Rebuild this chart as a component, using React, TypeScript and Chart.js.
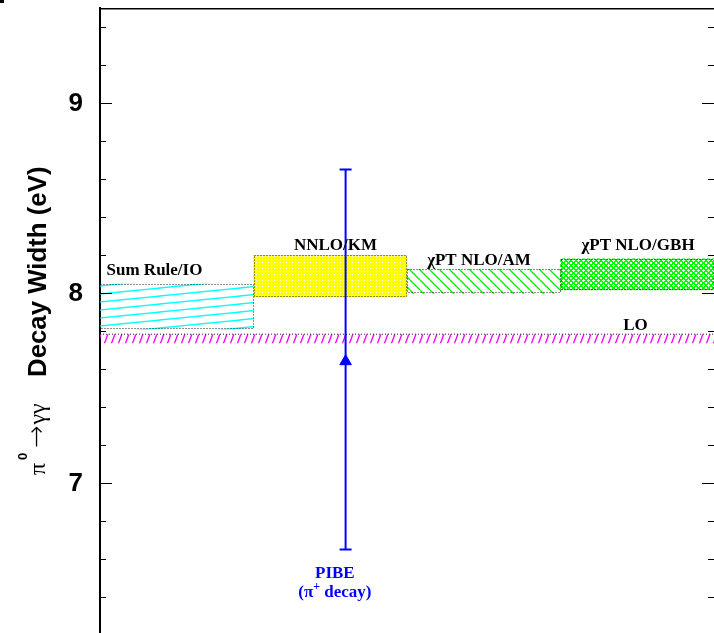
import React, { useEffect, useRef } from 'react';
import { Chart, registerables } from 'chart.js';

Chart.register(...registerables);

// ---- data ----
const MODELS = ['Sum Rule/IO', 'NNLO/KM', 'χPT NLO/AM', 'χPT NLO/GBH'];
const MODEL_X = [0.5, 1.5, 2.5, 3.5];
const MODEL_LOW = [7.81, 7.979, 7.998, 8.016];
const MODEL_HIGH = [8.047, 8.198, 8.125, 8.179];

const LO_LABEL = 'LO';
const LO_LOW = 7.735;
const LO_HIGH = 7.783;

const PIBE_LABEL = 'PIBE';
const PIBE_SUB = ['(π', '+', ' decay)'];
const PIBE_X = 1.6;
const PIBE_VALUE = 7.64;
const PIBE_ERR_LOW = 6.65;
const PIBE_ERR_HIGH = 8.65;

const Y_TICKS = [6.4, 6.6, 6.8, 7, 7.2, 7.4, 7.6, 7.8, 8, 8.2, 8.4, 8.6, 8.8, 9, 9.2, 9.4];
const Y_LABELED = [7, 8, 9];
const X_RANGE = [0, 4];
const Y_RANGE = [6.21, 9.5];

// label anchors in data coordinates
const MODEL_LABEL_X = [0.355, 1.534, 2.469, 3.505];
const MODEL_LABEL_Y = [8.095, 8.226, 8.147, 8.226];
const LO_LABEL_X = 3.489;
const LO_LABEL_Y = 7.805;
const PIBE_LABEL_X = 1.53;
const PIBE_LABEL_Y = [6.5, 6.4];

const SERIF = '"Liberation Serif", "DejaVu Serif", serif';
const SANS = '"Liberation Sans", Arial, sans-serif';

function makePattern(ctx: CanvasRenderingContext2D, w: number, h: number, draw: (g: CanvasRenderingContext2D) => void) {
  const c = document.createElement('canvas');
  c.width = w;
  c.height = h;
  const g = c.getContext('2d') as CanvasRenderingContext2D;
  draw(g);
  return ctx.createPattern(c, 'repeat') as CanvasPattern;
}

export default function App() {
  const ref = useRef<HTMLCanvasElement | null>(null);

  useEffect(() => {
    const canvas = ref.current;
    if (!canvas) return;
    const ctx = canvas.getContext('2d') as CanvasRenderingContext2D;

    const cyanP = makePattern(ctx, 80, 8, (g) => {
      g.strokeStyle = '#00ffff';
      g.lineWidth = 1.3;
      for (let k = -1; k <= 1; k++) {
        g.beginPath();
        g.moveTo(0, 8 + 8 * k);
        g.lineTo(80, 8 * k);
        g.stroke();
      }
    });
    const yellowP = makePattern(ctx, 3, 3, (g) => {
      g.fillStyle = '#ffff00';
      g.fillRect(0, 0, 3, 3);
      g.fillStyle = '#ffffff';
      g.fillRect(1, 1, 1, 1);
    });
    const amP = makePattern(ctx, 10, 10, (g) => {
      g.strokeStyle = '#00ee00';
      g.lineWidth = 1.3;
      for (let k = -1; k <= 1; k++) {
        g.beginPath();
        g.moveTo(10 * k, 0);
        g.lineTo(10 * k + 10, 10);
        g.stroke();
      }
    });
    const gbhP = makePattern(ctx, 5, 5, (g) => {
      g.fillStyle = '#ffffff';
      g.fillRect(0, 0, 5, 5);
      g.fillStyle = '#00ff00';
      for (let x = 0; x < 5; x++) {
        for (let y = 0; y < 5; y++) {
          const a = (x + y) % 5;
          const b = (((x - y) % 5) + 5) % 5;
          if (a <= 1 || b <= 1) g.fillRect(x, y, 1, 1);
        }
      }
    });
    const magP = makePattern(ctx, 7, 19, (g) => {
      g.strokeStyle = '#ff00ff';
      g.lineWidth = 1.4;
      for (let k = -1; k <= 1; k++) {
        g.beginPath();
        g.moveTo(7 * k, 19);
        g.lineTo(7 * k + 7, 0);
        g.stroke();
      }
    });

    const overlay = {
      id: 'overlay',
      afterDatasetsDraw(chart: any) {
        const c = chart.ctx as CanvasRenderingContext2D;
        const xs = chart.scales.x;
        const ys = chart.scales.y;
        const area = chart.chartArea;

        // dotted borders of model boxes
        const meta = chart.getDatasetMeta(3);
        c.save();
        c.strokeStyle = '#222';
        c.lineWidth = 1;
        c.setLineDash([1, 2]);
        meta.data.forEach((el: any) => {
          const p = el.getProps(['x', 'y', 'base', 'width'], true);
          const l = Math.round(p.x - p.width / 2) + 0.5;
          const r = Math.round(p.x + p.width / 2) - 0.5;
          const t = Math.round(Math.min(p.y, p.base)) + 0.5;
          const b = Math.round(Math.max(p.y, p.base)) - 0.5;
          c.strokeRect(l, t, r - l, b - t);
        });
        c.restore();

        // PIBE error bar
        const px = xs.getPixelForValue(PIBE_X);
        const pyl = ys.getPixelForValue(PIBE_ERR_LOW);
        const pyh = ys.getPixelForValue(PIBE_ERR_HIGH);
        c.save();
        c.strokeStyle = '#0000ff';
        c.lineWidth = 2;
        c.beginPath();
        c.moveTo(px, pyl);
        c.lineTo(px, pyh);
        c.moveTo(px - 6, pyl);
        c.lineTo(px + 6, pyl);
        c.moveTo(px - 6, pyh);
        c.lineTo(px + 6, pyh);
        c.stroke();
        c.restore();

        // labels
        c.save();
        c.fillStyle = '#000';
        c.textAlign = 'center';
        c.textBaseline = 'alphabetic';
        c.font = 'bold 17px ' + SERIF;
        MODELS.forEach((m, i) => {
          c.fillText(m, xs.getPixelForValue(MODEL_LABEL_X[i]), ys.getPixelForValue(MODEL_LABEL_Y[i]));
        });
        c.fillText(LO_LABEL, xs.getPixelForValue(LO_LABEL_X), ys.getPixelForValue(LO_LABEL_Y));

        c.fillStyle = '#0000ff';
        const lx = xs.getPixelForValue(PIBE_LABEL_X);
        c.fillText(PIBE_LABEL, lx, ys.getPixelForValue(PIBE_LABEL_Y[0]));
        const by = ys.getPixelForValue(PIBE_LABEL_Y[1]);
        const fMain = 'bold 17px ' + SERIF;
        const fSup = 'bold 12px ' + SERIF;
        c.font = fMain;
        const w0 = c.measureText(PIBE_SUB[0]).width;
        const w2 = c.measureText(PIBE_SUB[2]).width;
        c.font = fSup;
        const w1 = c.measureText(PIBE_SUB[1]).width;
        let sx = lx - (w0 + w1 + w2) / 2;
        c.textAlign = 'left';
        c.font = fMain;
        c.fillText(PIBE_SUB[0], sx, by);
        sx += w0;
        c.font = fSup;
        c.fillText(PIBE_SUB[1], sx, by - 7);
        sx += w1;
        c.font = fMain;
        c.fillText(PIBE_SUB[2], sx, by);
        c.restore();

        // tick marks (inside, both sides)
        c.save();
        c.strokeStyle = '#000';
        c.lineWidth = 1.2;
        c.beginPath();
        Y_TICKS.forEach((v) => {
          const y = Math.round(ys.getPixelForValue(v)) + 0.5;
          const len = Y_LABELED.includes(v) ? 12 : 6;
          c.moveTo(area.left, y);
          c.lineTo(area.left + len, y);
          c.moveTo(area.right, y);
          c.lineTo(area.right - len, y);
        });
        c.stroke();
        c.restore();

        // top frame line
        c.save();
        c.fillStyle = '#000';
        c.fillRect(area.left - 1, area.top, area.right - area.left + 1, 1.5);
        c.fillRect(0, 0, 4, 3);
        c.restore();
      },
      afterDraw(chart: any) {
        const c = chart.ctx as CanvasRenderingContext2D;
        c.save();
        c.translate(46, 475);
        c.rotate(-Math.PI / 2);
        c.fillStyle = '#000';
        c.textBaseline = 'alphabetic';
        c.textAlign = 'left';
        c.font = '24px ' + SERIF;
        c.fillText('π', 0, -1);
        c.font = 'bold 13px ' + SANS;
        c.fillText('0', 15, -19);
        c.textAlign = 'center';
        c.font = '200 27px "DejaVu Sans", sans-serif';
        c.fillText('→', 38.5, -1);
        c.font = '24px ' + SERIF;
        c.fillText('γγ', 61, -1);
        c.textAlign = 'left';
        c.font = 'bold 25.8px ' + SANS;
        c.fillText('Decay Width (eV)', 98, 0);
        c.restore();
      },
    };

    const chart = new Chart(canvas, {
      type: 'bar',
      data: {
        datasets: [
          {
            type: 'line',
            label: PIBE_LABEL,
            data: [{ x: PIBE_X, y: PIBE_VALUE }],
            showLine: false,
            pointStyle: 'triangle',
            pointRadius: 6.7,
            pointBackgroundColor: '#0000ff',
            pointBorderColor: '#0000ff',
            pointBorderWidth: 1,
            order: 0,
          } as any,
          {
            type: 'line',
            label: LO_LABEL + ' high',
            data: [
              { x: X_RANGE[0], y: LO_HIGH },
              { x: X_RANGE[1], y: LO_HIGH },
            ],
            borderColor: '#222',
            borderWidth: 1,
            borderDash: [1, 2],
            pointRadius: 0,
            fill: false,
            order: 1,
          } as any,
          {
            type: 'line',
            label: LO_LABEL + ' low',
            data: [
              { x: X_RANGE[0], y: LO_LOW },
              { x: X_RANGE[1], y: LO_LOW },
            ],
            borderColor: 'rgba(0,0,0,0)',
            borderWidth: 1,
            pointRadius: 0,
            backgroundColor: magP,
            fill: '-1',
            order: 1,
          } as any,
          {
            type: 'bar',
            label: 'models',
            data: MODEL_X.map((x, i) => ({ x, y: [MODEL_LOW[i], MODEL_HIGH[i]] })),
            backgroundColor: [cyanP, yellowP, amP, gbhP],
            borderWidth: 0,
            barPercentage: 1,
            categoryPercentage: 1,
            order: 2,
          } as any,
        ],
      },
      options: {
        responsive: false,
        animation: false,
        events: [],
        layout: { autoPadding: false, padding: { top: 8, left: 0, right: 0, bottom: 0 } },
        plugins: {
          legend: { display: false },
          tooltip: { enabled: false },
          title: { display: false },
        },
        scales: {
          x: {
            type: 'linear',
            display: false,
            min: X_RANGE[0],
            max: X_RANGE[1],
            offset: false,
            ticks: { stepSize: 1 },
            grid: { display: false },
          },
          y: {
            type: 'linear',
            min: Y_RANGE[0],
            max: Y_RANGE[1],
            afterBuildTicks: (s: any) => {
              s.ticks = Y_TICKS.map((v) => ({ value: v }));
            },
            afterFit: (s: any) => {
              s.width = 100;
              s.paddingTop = 0;
              s.paddingBottom = 0;
            },
            grid: { display: false, drawTicks: false },
            border: { display: true, color: '#000', width: 2 },
            ticks: {
              autoSkip: false,
              padding: 17,
              labelOffset: 1,
              color: '#000',
              font: { family: 'Liberation Sans', size: 26, weight: 'bold' },
              callback: (v: any) => (Y_LABELED.includes(v) ? String(v) : null),
            },
          },
        },
      } as any,
      plugins: [overlay],
    });

    return () => chart.destroy();
  }, []);

  return (
    <canvas
      ref={ref}
      width={714}
      height={633}
      style={{ position: 'fixed', left: 0, top: 0, display: 'block', background: '#fff' }}
    />
  );
}
